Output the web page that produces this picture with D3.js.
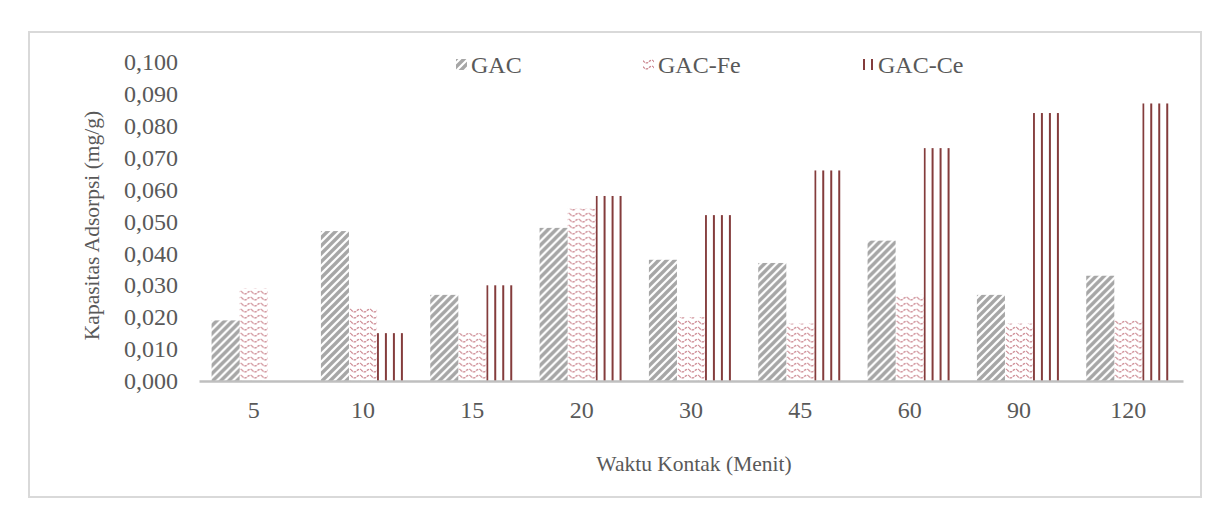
<!DOCTYPE html>
<html>
<head>
<meta charset="utf-8">
<script src="https://cdn.jsdelivr.net/npm/d3@7"></script>
<style>
  body { margin: 0; background: #fff; }
  text { font-family: "Liberation Serif", "Times New Roman", serif; fill: #595959; }
</style>
</head>
<body>
<div id="chart"></div>
<script>
// datos
var waktu = ["5", "10", "15", "20", "30", "45", "60", "90", "120"];
var series = ["GAC", "GAC-Fe", "GAC-Ce"];
var gac   = [0.019, 0.047, 0.027, 0.048, 0.038, 0.037, 0.044, 0.027, 0.033];
var gacFe = [0.029, 0.023, 0.015, 0.054, 0.020, 0.018, 0.027, 0.018, 0.019];
var gacCe = [0.000, 0.015, 0.030, 0.058, 0.052, 0.066, 0.073, 0.084, 0.087];
var yTicks = [0, 0.01, 0.02, 0.03, 0.04, 0.05, 0.06, 0.07, 0.08, 0.09, 0.1];

var width = 1230, height = 522;
var margin = {top: 62, right: 47, bottom: 141, left: 199};
var w = width - margin.left - margin.right,
    h = height - margin.top - margin.bottom;

var svg = d3.select("#chart").append("svg")
    .attr("width", width)
    .attr("height", height);

// patrones
var defs = svg.append("defs");
var p1 = defs.append("pattern").attr("id", "pGAC")
    .attr("patternUnits", "userSpaceOnUse")
    .attr("width", 8).attr("height", 8);
p1.append("path").attr("d", "M-2,10 L10,-2 M-2,2 L2,-2 M6,10 L10,6")
    .attr("stroke", "#a6a6a6").attr("stroke-width", 3.4);

var p2 = defs.append("pattern").attr("id", "pFe")
    .attr("patternUnits", "userSpaceOnUse")
    .attr("width", 10).attr("height", 6);
p2.append("path").attr("d", "M0,1.5 Q2.5,5 5,3.5 Q7.5,0.5 10,1.5")
    .attr("fill", "none").attr("stroke", "#c9828b").attr("stroke-width", 1.2)
    .attr("stroke-dasharray", "2.5,1");

var p3 = defs.append("pattern").attr("id", "pCe")
    .attr("patternUnits", "userSpaceOnUse")
    .attr("width", 8).attr("height", 8);
p3.append("rect").attr("x", 0).attr("y", 0).attr("width", 2).attr("height", 8)
    .attr("fill", "#843c3c");

var fills = ["url(#pGAC)", "url(#pFe)", "url(#pCe)"];

// marco
svg.append("rect")
    .attr("x", 29).attr("y", 32)
    .attr("width", 1172).attr("height", 465)
    .attr("fill", "none").attr("stroke", "#d9d9d9").attr("stroke-width", 2);

var g = svg.append("g")
    .attr("transform", "translate(" + margin.left + "," + margin.top + ")");

var x0 = d3.scaleBand().domain(waktu).range([0, w]).paddingInner(0.23).paddingOuter(0.115);
var x1 = d3.scaleBand().domain(series).range([0, x0.bandwidth()]);
var y = d3.scaleLinear().domain([0, 0.1]).range([h, 0]);

var rows = waktu.map(function(d, i) {
    return {k: d, vals: [gac[i], gacFe[i], gacCe[i]]};
});

var groups = g.selectAll(".grp").data(rows).enter().append("g")
    .attr("class", "grp")
    .attr("transform", function(d) { return "translate(" + x0(d.k) + ",0)"; });

groups.selectAll("rect")
    .data(function(d) { return d.vals.map(function(v, j) { return {s: series[j], v: v, j: j}; }); })
    .enter().append("rect")
    .attr("x", function(d) { return x1(d.s); })
    .attr("width", x1.bandwidth())
    .attr("y", function(d) { return y(d.v); })
    .attr("height", function(d) { return h - y(d.v); })
    .attr("fill", function(d) { return fills[d.j]; });

// Y axis
var yAxis = d3.axisLeft(y).tickValues(yTicks).tickSize(0).tickPadding(21)
    .tickFormat(function(d) { return d3.format(".3f")(d).replace(".", ","); });
var ya = g.append("g").attr("class", "y axis").call(yAxis);
ya.select(".domain").remove();
ya.selectAll("text").style("font-size", "24px").attr("fill", "#595959");

// X axis
var xAxis = d3.axisBottom(x0).tickSize(0).tickPadding(20);
var xa = g.append("g").attr("class", "x axis")
    .attr("transform", "translate(0," + h + ")")
    .call(xAxis);
xa.select(".domain").attr("stroke", "#bfbfbf").attr("stroke-width", 2.5);
xa.selectAll("text").style("font-size", "24px").attr("fill", "#595959");

// titulos
svg.append("text")
    .attr("transform", "translate(99," + (margin.top + h / 2 + 4) + ") rotate(-90)")
    .attr("text-anchor", "middle")
    .style("font-size", "21.5px")
    .text("Kapasitas Adsorpsi (mg/g)");

svg.append("text")
    .attr("x", margin.left + w / 2 + 3).attr("y", 471)
    .attr("text-anchor", "middle")
    .style("font-size", "21.5px")
    .text("Waktu Kontak (Menit)");

// leyenda
var legX = [456, 643, 863];
var leg = svg.selectAll(".leg").data(series).enter().append("g")
    .attr("class", "leg")
    .attr("transform", function(d, i) { return "translate(" + legX[i] + ",59)"; });
leg.append("rect").attr("width", 11).attr("height", 11)
    .attr("fill", function(d, i) { return fills[i]; });
leg.append("text").attr("x", 15).attr("y", 14)
    .style("font-size", "24px")
    .text(function(d) { return d; });
</script>
</body>
</html>
